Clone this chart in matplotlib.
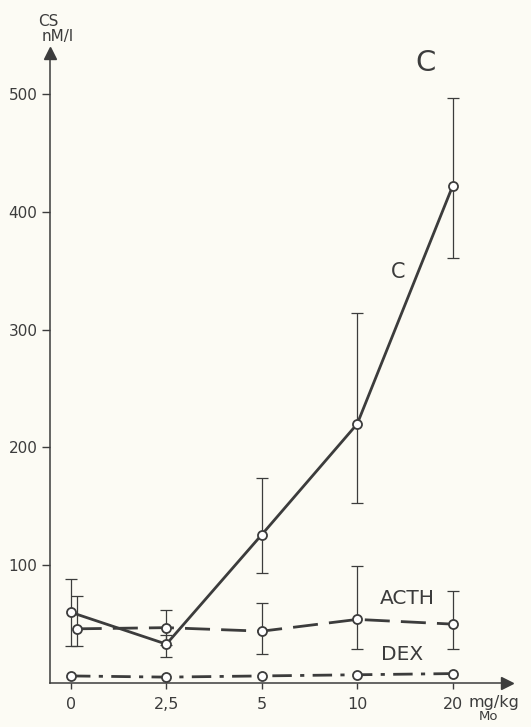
import numpy as np
import matplotlib
matplotlib.use("Agg")
import matplotlib.pyplot as plt

# ---- data ----
dose_labels = ["0", "2,5", "5", "10", "20"]
c_mean = [60, 33, 126, 220, 422]
c_upper = [88, 41, 174, 314, 497]
c_lower = [31, 22, 93, 153, 361]
acth_mean = [46, 47, 44, 54, 50]
acth_upper = [74, 62, 68, 99, 78]
acth_lower = [31, 32, 25, 29, 29]
dex_mean = [6, 5, 6, 7, 8]
y_ticks = [100, 200, 300, 400, 500]

ink = "#3c3c3c"
bg = "#fcfbf4"
plt.rcParams["font.family"] = ["DejaVu Sans"]

W, H = 531, 727
fig = plt.figure(figsize=(W / 100, H / 100), dpi=100, facecolor=bg)
# axes pixel box: left 50, right 507, top 53, bottom 683
ax = fig.add_axes([50 / W, (H - 683) / H, (507 - 50) / W, (683 - 53) / H])
ax.set_facecolor(bg)

x = np.arange(len(dose_labels), dtype=float)
acth_shift = np.array([0.06, 0, 0, 0, 0])
xa = x + acth_shift

cm = np.array(c_mean); am = np.array(acth_mean)
c_err = [cm - np.array(c_lower), np.array(c_upper) - cm]
a_err = [am - np.array(acth_lower), np.array(acth_upper) - am]

# error bars
ax.errorbar(x, cm, yerr=c_err, fmt="none", ecolor=ink, elinewidth=0.9,
            capsize=4, capthick=0.9, zorder=2)
ax.errorbar(xa, am, yerr=a_err, fmt="none", ecolor=ink, elinewidth=0.9,
            capsize=4, capthick=0.9, zorder=2)

mk = dict(marker="o", markersize=6.5, markerfacecolor="white",
          markeredgecolor=ink, markeredgewidth=1.3)
ax.plot(x, cm, color=ink, lw=2.0, zorder=3, **mk)
ax.plot(xa, am, color=ink, lw=2.0, dashes=(9, 4), zorder=3, **mk)
ax.plot(x, dex_mean, color=ink, lw=2.0, dashes=(7, 3, 1.5, 3), zorder=3, **mk)

ax.set_xlim(-0.22, 4.57)
ax.set_ylim(0, 535)
ax.set_yticks(y_ticks)
ax.set_yticklabels([str(v) for v in y_ticks])
ax.set_xticks(x)
ax.set_xticklabels(dose_labels)
ax.tick_params(axis="y", direction="out", length=6, width=1, color=ink,
               labelcolor=ink, labelsize=11, pad=3)
ax.tick_params(axis="x", direction="out", length=4, width=1, color=ink,
               labelcolor=ink, labelsize=11.5, pad=6)

for s in ["top", "right"]:
    ax.spines[s].set_visible(False)
for s in ["left", "bottom"]:
    ax.spines[s].set_color(ink)
    ax.spines[s].set_linewidth(1.1)

# axis arrows
ax.plot(1, 0, marker=">", color=ink, markersize=9, transform=ax.transAxes,
        clip_on=False)
ax.plot(0, 1, marker="^", color=ink, markersize=9, transform=ax.transAxes,
        clip_on=False)

def px(xp, yp):
    return xp / W, 1 - yp / H

fig.text(*px(48, 21), "CS", ha="center", va="center", color=ink, fontsize=11)
fig.text(*px(58, 37), "nM/l", ha="center", va="center", color=ink, fontsize=11)
fig.text(*px(494, 702), "mg/kg", ha="center", va="center", color=ink, fontsize=11.5)
fig.text(*px(488, 717), "Mo", ha="center", va="center", color=ink, fontsize=9.5)

fig.text(*px(426, 63), "C", ha="center", va="center", color=ink, fontsize=21)
fig.text(*px(398, 272), "C", ha="center", va="center", color=ink, fontsize=15)
fig.text(*px(407, 599), "ACTH", ha="center", va="center", color=ink, fontsize=14.5)
fig.text(*px(402, 655), "DEX", ha="center", va="center", color=ink, fontsize=14.5)

fig.savefig("out.png", dpi=100, facecolor=bg)
